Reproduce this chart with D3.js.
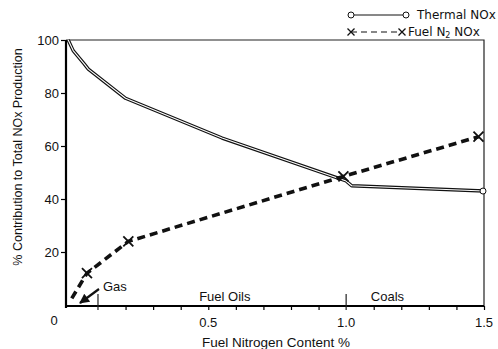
<!DOCTYPE html>
<html>
<head>
<meta charset="utf-8">
<script src="https://cdn.jsdelivr.net/npm/d3@7"></script>
<style>
  body { margin: 0; background: #fff; }
  text { font-family: "Liberation Sans", Arial, sans-serif; fill: #111; }
</style>
</head>
<body>
<div id="container"></div>
<script>
// values
const thermalX = [-0.008, 0.01, 0.05, 0.065, 0.2, 0.55, 1.0, 1.02, 1.5];
const thermalY = [100, 96, 91, 89, 78, 63, 46.8, 45, 43];
const fuelX = [0.005, 0.06, 0.21, 0.99, 1.48];
const fuelY = [2.5, 12, 24, 48.5, 63.5];
const fuelMarkerIdx = [1, 2, 3, 4];

const yTicks = [20, 40, 60, 80, 100];
const xLabels = [0, 0.5, 1.0, 1.5];
const xLabelText = ["0", "0.5", "1.0", "1.5"];
const xMinorTicks = [0.2, 0.3, 0.4, 0.5, 0.6, 0.7, 0.8, 0.9, 1.1, 1.2, 1.3, 1.4];
const regionBounds = [0.1, 1.0];
const regionNames = ["Fuel Oils", "Coals"];
const regionLabelX = [0.56, 1.15];

const width = 498;
const height = 349;

const svg = d3.create("svg")
    .attr("width", width)
    .attr("height", height);

const x = d3.scaleLinear().domain([-0.016, 1.5]).range([66, 484]);
const y = d3.scaleLinear().domain([0, 100]).range([305, 40]);
const axisY = 306;

// frame: thin top / right
svg.append("path")
    .attr("d", `M${x(-0.016)},${y(100)}H${x(1.5)}V${axisY}`)
    .attr("fill", "none")
    .attr("stroke", "#222")
    .attr("stroke-width", 1.2);

// y axis
const yAxis = svg.append("g").attr("transform", `translate(${x(-0.016)},0)`)
    .call(d3.axisLeft(y).tickValues(yTicks).tickSize(5).tickPadding(2));
yAxis.select(".domain").attr("d", `M0,${y(100)}V${axisY + 2}`).attr("stroke-width", 2.2);
yAxis.selectAll("line").attr("stroke-width", 1.2);
yAxis.selectAll("text").attr("font-size", 13).style("font-family", "Liberation Sans, Arial, sans-serif").attr("fill", "#111");

// x axis
const xAxis = svg.append("g").attr("transform", `translate(0,${axisY})`)
    .call(d3.axisBottom(x).tickValues(xMinorTicks.concat([1.5])).tickSize(4).tickFormat(""));
xAxis.select(".domain").attr("d", `M${x(-0.016)},0H${x(1.5)}`).attr("stroke-width", 2.2);
xAxis.selectAll("line").attr("stroke-width", 1.2);

svg.selectAll("line.bound")
    .data(regionBounds)
    .enter()
    .append("line")
    .attr("class", "bound")
    .attr("x1", d => x(d)).attr("x2", d => x(d))
    .attr("y1", axisY - 12).attr("y2", axisY + 4)
    .attr("stroke", "#222")
    .attr("stroke-width", 1.2);

svg.selectAll("text.xlab")
    .data(xLabels)
    .enter()
    .append("text")
    .attr("class", "xlab")
    .attr("x", (d, i) => i === 0 ? 54 : x(d))
    .attr("y", (d, i) => i === 0 ? 325 : 327)
    .attr("text-anchor", "middle")
    .attr("font-size", 13)
    .text((d, i) => xLabelText[i]);

svg.append("text")
    .attr("x", 276)
    .attr("y", 347)
    .attr("text-anchor", "middle")
    .attr("font-size", 13.5)
    .text("Fuel Nitrogen Content %");

svg.append("text")
    .attr("transform", "translate(22,157) rotate(-90)")
    .attr("text-anchor", "middle")
    .attr("font-size", 12.5)
    .text("% Contribution to Total NOx Production");

// region labels
svg.selectAll("text.region")
    .data(regionNames)
    .enter()
    .append("text")
    .attr("class", "region")
    .attr("x", (d, i) => x(regionLabelX[i]))
    .attr("y", 301)
    .attr("text-anchor", "middle")
    .attr("font-size", 13)
    .text(d => d);

svg.append("text")
    .attr("x", 103)
    .attr("y", 291)
    .attr("font-size", 13)
    .text("Gas");

svg.append("defs").append("marker")
    .attr("id", "arrow")
    .attr("viewBox", "0 0 10 10")
    .attr("refX", 9).attr("refY", 5)
    .attr("markerWidth", 5).attr("markerHeight", 4.5)
    .attr("orient", "auto")
    .append("path")
    .attr("d", "M0,0L10,5L0,10z")
    .attr("fill", "#111");

svg.append("line")
    .attr("x1", 99).attr("y1", 289)
    .attr("x2", 80).attr("y2", 303)
    .attr("stroke", "#111")
    .attr("stroke-width", 2.2)
    .attr("marker-end", "url(#arrow)");

// thermal NOx: hollow double line
const thermal = thermalX.map((v, i) => [v, thermalY[i]]);
const line = d3.line().x(d => x(d[0])).y(d => y(d[1]));

svg.append("path")
    .datum(thermal)
    .attr("d", line)
    .attr("fill", "none")
    .attr("stroke", "#111")
    .attr("stroke-width", 3.4)
    .attr("stroke-linejoin", "round");
svg.append("path")
    .datum(thermal)
    .attr("d", line)
    .attr("fill", "none")
    .attr("stroke", "#fff")
    .attr("stroke-width", 1.1)
    .attr("stroke-linejoin", "round");

svg.append("circle")
    .attr("cx", x(thermalX[thermalX.length - 1]) - 1)
    .attr("cy", y(thermalY[thermalY.length - 1]))
    .attr("r", 3)
    .attr("fill", "#fff")
    .attr("stroke", "#111")
    .attr("stroke-width", 1);

// fuel N2 NOx: heavy dashed line with X markers
const fuel = fuelX.map((v, i) => [v, fuelY[i]]);
svg.append("path")
    .datum(fuel)
    .attr("d", line)
    .attr("fill", "none")
    .attr("stroke", "#111")
    .attr("stroke-width", 3.6)
    .attr("stroke-dasharray", "8,5");

const cross = 5;
svg.selectAll("path.xmark")
    .data(fuelMarkerIdx.map(i => fuel[i]))
    .enter()
    .append("path")
    .attr("class", "xmark")
    .attr("d", d => {
        const cx = x(d[0]), cy = y(d[1]);
        return `M${cx - cross},${cy - cross}L${cx + cross},${cy + cross}M${cx - cross},${cy + cross}L${cx + cross},${cy - cross}`;
    })
    .attr("stroke", "#111")
    .attr("stroke-width", 1.8);

// legend
const legend = svg.append("g").attr("transform", "translate(351,0)");
legend.append("line")
    .attr("x1", 3).attr("x2", 52).attr("y1", 15).attr("y2", 15)
    .attr("stroke", "#111").attr("stroke-width", 1);
legend.selectAll("circle")
    .data([0, 55])
    .enter()
    .append("circle")
    .attr("cx", d => d).attr("cy", 15).attr("r", 3)
    .attr("fill", "#fff").attr("stroke", "#111").attr("stroke-width", 1);
legend.append("line")
    .attr("x1", 0).attr("x2", 51).attr("y1", 32).attr("y2", 32)
    .attr("stroke", "#111").attr("stroke-width", 1.2)
    .attr("stroke-dasharray", "6,4");
legend.selectAll("path.lx")
    .data([0, 51])
    .enter()
    .append("path")
    .attr("class", "lx")
    .attr("d", d => `M${d - 3.5},${28.5}L${d + 3.5},${35.5}M${d - 3.5},${35.5}L${d + 3.5},${28.5}`)
    .attr("stroke", "#111").attr("stroke-width", 1.3);
legend.append("text")
    .attr("x", 66).attr("y", 19.3)
    .attr("font-size", 12)
    .style("font-family", "DejaVu Sans, sans-serif")
    .text("Thermal NOx");
const fuelLabel = legend.append("text")
    .attr("x", 57).attr("y", 36.3)
    .attr("font-size", 12)
    .style("font-family", "DejaVu Sans, sans-serif");
fuelLabel.append("tspan").text("Fuel N");
fuelLabel.append("tspan").attr("font-size", 8).attr("dy", 1.5).text("2");
fuelLabel.append("tspan").attr("dy", -1.5).text(" NOx");

d3.select("#container").append(() => svg.node());
</script>
</body>
</html>
